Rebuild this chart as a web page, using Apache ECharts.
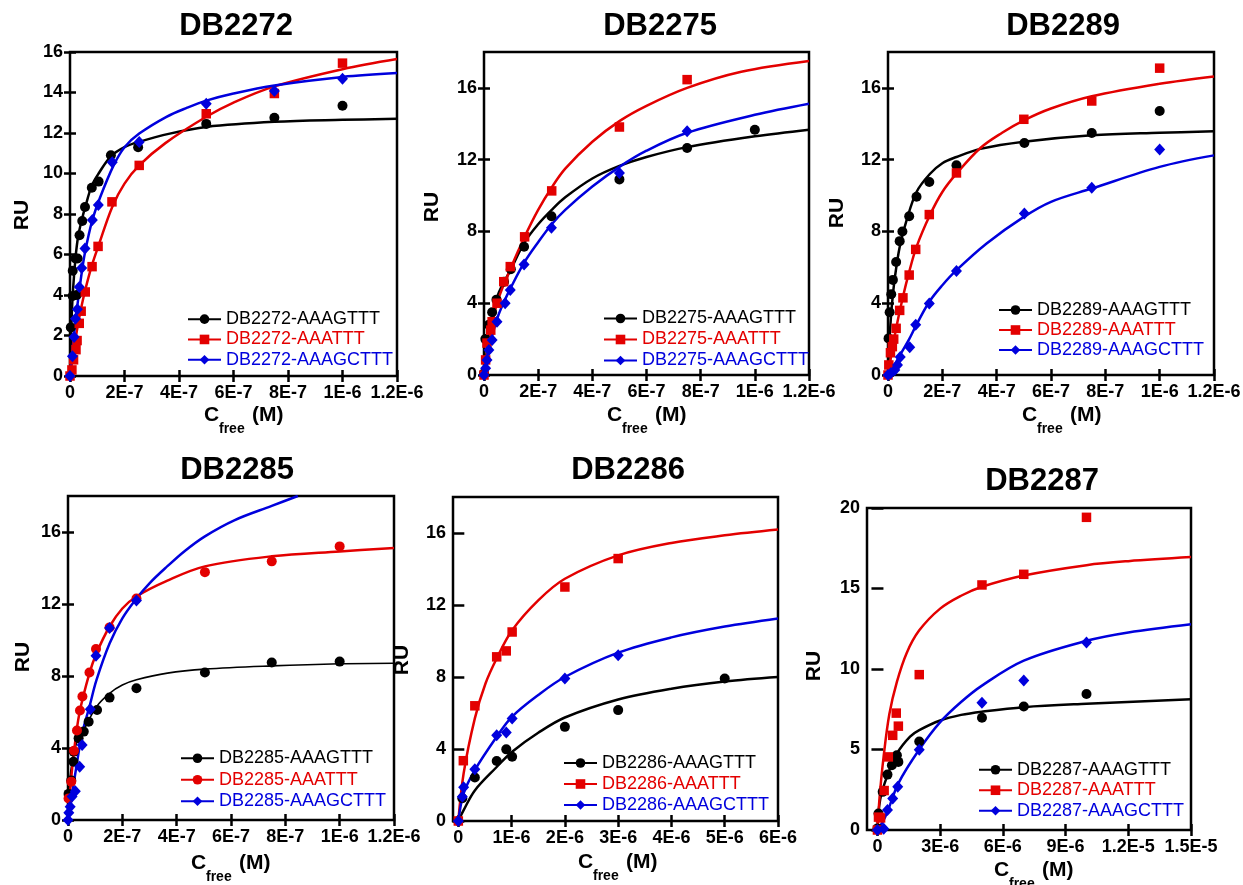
<!DOCTYPE html>
<html><head><meta charset="utf-8">
<script src="https://cdn.jsdelivr.net/npm/echarts@6/dist/echarts.min.js"></script>
<style>html,body{margin:0;padding:0;background:#fff}#c{width:1243px;height:885px}</style>
</head><body><div id="c"></div>
<script>
// ---------------- DATA ----------------
const titles = ['DB2272', 'DB2275', 'DB2289', 'DB2285', 'DB2286', 'DB2287'];
const sequences = ['AAAGTTT', 'AAATTT', 'AAAGCTTT'];

const xTicks_E7 = [0, 2e-7, 4e-7, 6e-7, 8e-7, 1e-6, 1.2e-6];
const xTickLabels_E7 = ['0', '2E-7', '4E-7', '6E-7', '8E-7', '1E-6', '1.2E-6'];
const xTicks_E6 = [0, 1e-6, 2e-6, 3e-6, 4e-6, 5e-6, 6e-6];
const xTickLabels_E6 = ['0', '1E-6', '2E-6', '3E-6', '4E-6', '5E-6', '6E-6'];
const xTicks_E5 = [0, 3e-6, 6e-6, 9e-6, 1.2e-5, 1.5e-5];
const xTickLabels_E5 = ['0', '3E-6', '6E-6', '9E-6', '1.2E-5', '1.5E-5'];
const yTicks_16 = [0, 2, 4, 6, 8, 10, 12, 14, 16];
const yTicks_18 = [0, 4, 8, 12, 16];
const yTicks_20 = [0, 5, 10, 15, 20];

// DB2272
const db2272_AAAGTTT_pts = [[3e-9,2.4],[1e-8,3.95],[1e-8,5.2],[2e-8,5.8],[2.5e-8,4.0],[2.8e-8,5.8],[3.5e-8,6.95],[4.5e-8,7.65],[5.5e-8,8.35],[8e-8,9.3],[1.05e-7,9.6],[1.5e-7,10.9],[2.5e-7,11.3],[5e-7,12.45],[7.5e-7,12.75],[1e-6,13.35]];
const db2272_AAATTT_pts = [[0,0],[7e-9,0.3],[1.3e-8,0.8],[2.2e-8,1.3],[2.6e-8,1.75],[3.4e-8,2.6],[4.1e-8,3.2],[5.6e-8,4.15],[8.1e-8,5.4],[1.03e-7,6.4],[1.54e-7,8.6],[2.54e-7,10.4],[5e-7,12.95],[7.5e-7,13.95],[1e-6,15.45]];
const db2272_AAAGCTTT_pts = [[0,0],[9e-9,0.97],[1.5e-8,1.93],[2e-8,2.83],[2.7e-8,3.3],[3.4e-8,4.4],[4.3e-8,5.33],[5.5e-8,6.3],[8.2e-8,7.7],[1.04e-7,8.45],[1.55e-7,10.55],[2.54e-7,11.55],[5e-7,13.45],[7.5e-7,14.07],[1e-6,14.68]];
const db2272_AAAGTTT_fit = [[0,0],[5e-9,2.5],[1e-8,4.0],[2e-8,5.8],[3e-8,6.9],[4.5e-8,7.8],[5.5e-8,8.3],[8e-8,9.4],[1.05e-7,10.0],[1.5e-7,10.85],[2e-7,11.3],[2.5e-7,11.55],[3.66e-7,11.97],[5e-7,12.3],[7.5e-7,12.55],[1e-6,12.65],[1.2e-6,12.7]];
const db2272_AAATTT_fit = [[0,0],[1e-8,0.9],[2e-8,1.8],[3e-8,2.6],[4e-8,3.3],[5.5e-8,4.2],[8e-8,5.45],[1.05e-7,6.45],[1.55e-7,8.35],[2e-7,9.5],[2.54e-7,10.4],[3.5e-7,11.5],[5e-7,12.8],[6e-7,13.5],[7.5e-7,14.3],[1e-6,15.15],[1.2e-6,15.65]];
const db2272_AAAGCTTT_fit = [[0,0],[1e-8,1.4],[2e-8,2.7],[3e-8,3.8],[4.3e-8,5.1],[5.5e-8,6.1],[8e-8,7.6],[1.1e-7,8.8],[1.6e-7,10.4],[2e-7,11.3],[2.54e-7,11.97],[3.54e-7,12.8],[4.3e-7,13.25],[5e-7,13.6],[6e-7,13.95],[7.5e-7,14.35],[1e-6,14.77],[1.2e-6,14.96]];

// DB2275
const db2275_AAAGTTT_pts = [[0,0.1],[5e-9,2.0],[1.8e-8,2.8],[3e-8,3.5],[4.6e-8,4.2],[7.4e-8,5.2],[9.9e-8,5.9],[1.48e-7,7.15],[2.49e-7,8.85],[5e-7,10.9],[7.5e-7,12.65],[1e-6,13.67]];
const db2275_AAATTT_pts = [[0,0],[6e-9,0.84],[1.1e-8,1.78],[2.5e-8,2.5],[3e-8,2.97],[4.8e-8,4.0],[7.3e-8,5.2],[9.7e-8,6.04],[1.5e-7,7.7],[2.5e-7,10.26],[5e-7,13.82],[7.5e-7,16.46]];
const db2275_AAAGCTTT_pts = [[0,0],[6e-9,0.37],[1.1e-8,0.84],[1.8e-8,1.39],[3e-8,1.95],[4.8e-8,2.97],[7.8e-8,4.0],[9.7e-8,4.74],[1.48e-7,6.16],[2.49e-7,8.2],[5e-7,11.26],[7.5e-7,13.58]];
const db2275_AAAGTTT_fit = [[0,0],[2e-8,2.3],[5e-8,4.4],[1e-7,5.9],[1.5e-7,7.4],[2e-7,8.4],[2.5e-7,9.2],[3e-7,9.9],[4e-7,10.95],[5e-7,11.65],[6e-7,12.15],[7.5e-7,12.7],[1e-6,13.3],[1.2e-6,13.67]];
const db2275_AAATTT_fit = [[0,0],[2e-8,2.0],[5e-8,4.1],[1e-7,6.0],[1.5e-7,7.7],[2e-7,9.2],[2.5e-7,10.45],[3e-7,11.5],[4e-7,13.0],[5e-7,14.15],[6e-7,15.0],[7.5e-7,16.0],[9.5e-7,16.9],[1.2e-6,17.5]];
const db2275_AAAGCTTT_fit = [[0,0],[2e-8,1.6],[5e-8,3.2],[7.4e-8,4.08],[1e-7,4.9],[1.5e-7,6.3],[2e-7,7.4],[2.5e-7,8.4],[3e-7,9.2],[4e-7,10.5],[5e-7,11.6],[6e-7,12.5],[7.5e-7,13.5],[1e-6,14.5],[1.2e-6,15.12]];

// DB2289
const db2289_AAAGTTT_pts = [[2e-9,2.04],[6e-9,3.5],[1.2e-8,4.5],[1.8e-8,5.3],[3e-8,6.3],[4.3e-8,7.46],[5.3e-8,8.0],[7.8e-8,8.85],[1.05e-7,9.93],[1.52e-7,10.76],[2.52e-7,11.69],[5.02e-7,12.93],[7.5e-7,13.49],[1e-6,14.71]];
const db2289_AAATTT_pts = [[0,0],[3e-9,0.56],[9e-9,1.24],[1.6e-8,1.58],[2.1e-8,2.0],[3e-8,2.6],[4.3e-8,3.6],[5.5e-8,4.3],[7.8e-8,5.57],[1.02e-7,7.0],[1.52e-7,8.94],[2.52e-7,11.26],[5e-7,14.25],[7.5e-7,15.27],[1e-6,17.1]];
const db2289_AAAGCTTT_pts = [[0,0],[1e-8,0.1],[2.5e-8,0.28],[3.5e-8,0.56],[4.5e-8,1.0],[8e-8,1.55],[1.02e-7,2.8],[1.52e-7,3.99],[2.52e-7,5.79],[5.02e-7,9.0],[7.5e-7,10.43],[1e-6,12.56]];
const db2289_AAAGTTT_fit = [[0,0],[4e-9,1.6],[8e-9,2.6],[1.5e-8,4.0],[2.5e-8,5.4],[4.3e-8,7.14],[6.8e-8,8.6],[1.05e-7,10.2],[1.54e-7,11.2],[2e-7,11.8],[2.52e-7,12.15],[3.4e-7,12.6],[5e-7,13.0],[7.5e-7,13.36],[1e-6,13.5],[1.2e-6,13.58]];
const db2289_AAATTT_fit = [[0,0],[1e-8,0.9],[3e-8,2.6],[5.5e-8,4.36],[7.8e-8,5.75],[1.05e-7,7.14],[1.54e-7,8.9],[2e-7,10.2],[2.52e-7,11.22],[3.4e-7,12.65],[4.2e-7,13.5],[5e-7,14.19],[6e-7,14.85],[7.5e-7,15.53],[1e-6,16.23],[1.2e-6,16.64]];
const db2289_AAAGCTTT_fit = [[0,0],[2e-8,0.45],[4e-8,1.0],[7.8e-8,2.0],[1.02e-7,2.72],[1.52e-7,4.08],[2e-7,5.0],[2.52e-7,5.84],[3.63e-7,7.33],[5e-7,8.81],[6e-7,9.65],[7.5e-7,10.39],[1e-6,11.6],[1.2e-6,12.24]];

// DB2285
const db2285_AAAGTTT_pts = [[2e-9,1.45],[1.2e-8,2.2],[2e-8,3.24],[2.1e-8,3.8],[3.9e-8,4.54],[5.8e-8,4.91],[7.6e-8,5.46],[1.07e-7,6.11],[1.53e-7,6.8],[2.52e-7,7.32],[5.04e-7,8.19],[7.5e-7,8.75],[1e-6,8.8]];
const db2285_AAATTT_pts = [[2e-9,1.2],[1.2e-8,2.13],[2.2e-8,3.85],[3.3e-8,4.97],[4.4e-8,6.08],[5.3e-8,6.86],[7.9e-8,8.19],[1.03e-7,9.5],[1.53e-7,10.7],[2.52e-7,12.3],[5.04e-7,13.77],[7.5e-7,14.37],[1e-6,15.2]];
const db2285_AAAGCTTT_pts = [[0,0],[3e-9,0.4],[8e-9,0.74],[1.5e-8,1.3],[2.7e-8,1.6],[4.3e-8,2.96],[5.2e-8,4.17],[8.2e-8,6.15],[1.03e-7,9.12],[1.53e-7,10.66],[2.52e-7,12.2]];
const db2285_AAAGTTT_fit = [[0,0],[5e-9,1.9],[1e-8,2.7],[2e-8,3.6],[3.5e-8,4.4],[5.8e-8,5.0],[1.05e-7,6.3],[1.53e-7,7.04],[2e-7,7.5],[2.52e-7,7.79],[3.66e-7,8.16],[5.04e-7,8.38],[7.5e-7,8.56],[1e-6,8.68],[1.2e-6,8.71]];
const db2285_AAATTT_fit = [[0,0],[1e-8,2.0],[2.2e-8,3.8],[4.2e-8,5.93],[7.9e-8,8.16],[1.05e-7,9.27],[1.53e-7,10.75],[2e-7,11.75],[2.52e-7,12.42],[3.66e-7,13.3],[5.04e-7,14.09],[7.5e-7,14.65],[1e-6,14.92],[1.2e-6,15.11]];
const db2285_AAAGCTTT_fit = [[0,0],[1e-8,0.9],[2.7e-8,2.6],[5.2e-8,4.8],[7.9e-8,6.3],[1.05e-7,7.78],[1.53e-7,9.8],[2e-7,11.2],[2.52e-7,12.3],[3e-7,13.15],[3.66e-7,14.1],[4.3e-7,14.95],[5.04e-7,15.76],[6.12e-7,16.65],[7.5e-7,17.45],[8.46e-7,18.0]];

// DB2286
const db2286_AAAGTTT_pts = [[0,0],[7.5e-8,1.26],[3.1e-7,2.42],[7.2e-7,3.33],[9e-7,3.98],[1.01e-6,3.57],[2e-6,5.23],[3e-6,6.16],[5e-6,7.92]];
const db2286_AAATTT_pts = [[0,0],[9.4e-8,3.35],[3.1e-7,6.4],[7.2e-7,9.12],[9e-7,9.45],[1.01e-6,10.5],[2e-6,13.0],[3e-6,14.58]];
const db2286_AAAGCTTT_pts = [[0,0],[7.5e-8,1.35],[1e-7,1.87],[3.1e-7,2.87],[7.2e-7,4.77],[9e-7,4.92],[1.01e-6,5.7],[2e-6,7.92],[3e-6,9.21]];
const db2286_AAAGTTT_fit = [[0,0],[1e-7,0.6],[3.1e-7,1.7],[7.2e-7,3.0],[1.01e-6,3.85],[1.5e-6,4.9],[2e-6,5.75],[3e-6,6.75],[4e-6,7.35],[5e-6,7.75],[6e-6,8.0]];
const db2286_AAATTT_fit = [[0,0],[1e-7,2.65],[3.1e-7,5.7],[5.1e-7,7.64],[7.2e-7,9.03],[1.01e-6,10.6],[1.5e-6,12.26],[2e-6,13.46],[3e-6,14.76],[4e-6,15.45],[5e-6,15.87],[6e-6,16.19]];
const db2286_AAAGCTTT_fit = [[0,0],[1e-7,1.54],[3.1e-7,2.83],[7.2e-7,4.68],[1.01e-6,5.8],[1.5e-6,7.0],[2e-6,8.0],[3e-6,9.35],[4e-6,10.2],[5e-6,10.8],[6e-6,11.25]];

// DB2287
const db2287_AAAGTTT_pts = [[0,0.1],[5e-8,1.03],[2.5e-7,2.37],[4.8e-7,3.44],[6.9e-7,4.02],[9.3e-7,4.64],[1.0e-6,4.23],[2e-6,5.5],[5e-6,6.97],[7e-6,7.67],[1e-5,8.45]];
const db2287_AAATTT_pts = [[0,0],[5e-8,0.8],[1.5e-7,0.75],[3.2e-7,2.45],[5.2e-7,4.54],[7.3e-7,5.88],[9e-7,7.26],[1.0e-6,6.45],[2e-6,9.65],[5e-6,15.22],[7e-6,15.88],[1e-5,19.42]];
const db2287_AAAGCTTT_pts = [[0,0],[3e-7,0.08],[4.8e-7,1.24],[7.3e-7,1.96],[9.7e-7,2.68],[2e-6,4.99],[5e-6,7.9],[7e-6,9.28],[1e-5,11.65]];
const db2287_AAAGTTT_fit = [[0,0],[1.3e-7,1.9],[4.8e-7,3.4],[9.3e-7,4.75],[1.56e-6,5.8],[2e-6,6.2],[3e-6,6.8],[4e-6,7.15],[5e-6,7.35],[7e-6,7.63],[1e-5,7.84],[1.5e-5,8.12]];
const db2287_AAATTT_fit = [[0,0],[1e-7,2.0],[2.9e-7,4.5],[5.7e-7,7.2],[9.3e-7,9.2],[1.4e-6,11.0],[2e-6,12.4],[3e-6,13.75],[4e-6,14.55],[5e-6,15.11],[7e-6,15.81],[1e-5,16.45],[1.2e-5,16.7],[1.5e-5,16.95]];
const db2287_AAAGCTTT_fit = [[0,0],[2.5e-7,0.5],[4.8e-7,1.13],[1e-6,2.9],[2e-6,5.0],[3e-6,6.7],[4e-6,7.95],[5e-6,8.97],[7e-6,10.52],[1e-5,11.75],[1.2e-5,12.27],[1.5e-5,12.78]];

// ---------------- LAYOUT / STYLE ----------------
const FONT = '"Liberation Sans", Arial, Helvetica, sans-serif';
const COLORS = ['#000000', '#e30000', '#0000dd'];

const panels = [
  { pts: [db2272_AAAGTTT_pts, db2272_AAATTT_pts, db2272_AAAGCTTT_pts],
    fits: [db2272_AAAGTTT_fit, db2272_AAATTT_fit, db2272_AAAGCTTT_fit],
    syms: ['circle', 'rect', 'diamond'], xTicks: xTicks_E7, xLabels: xTickLabels_E7, yTicks: yTicks_16,
    xmin: 0, xmax: 1.2e-6, ymax: 16, grid: [70, 52, 327, 324],
    title: [236, 26], ru: [22, 215], cfree: [204, 415], legend: [187, 309, 20.3], blackW: 2.5 },
  { pts: [db2275_AAAGTTT_pts, db2275_AAATTT_pts, db2275_AAAGCTTT_pts],
    fits: [db2275_AAAGTTT_fit, db2275_AAATTT_fit, db2275_AAAGCTTT_fit],
    syms: ['circle', 'rect', 'diamond'], xTicks: xTicks_E7, xLabels: xTickLabels_E7, yTicks: yTicks_18,
    xmin: 0, xmax: 1.2e-6, ymax: 18, grid: [484, 52, 325, 323],
    title: [660, 26], ru: [432, 207], cfree: [607, 415], legend: [603, 308, 21] , blackW: 2.5 },
  { pts: [db2289_AAAGTTT_pts, db2289_AAATTT_pts, db2289_AAAGCTTT_pts],
    fits: [db2289_AAAGTTT_fit, db2289_AAATTT_fit, db2289_AAAGCTTT_fit],
    syms: ['circle', 'rect', 'diamond'], xTicks: xTicks_E7, xLabels: xTickLabels_E7, yTicks: yTicks_18,
    xmin: 0, xmax: 1.2e-6, ymax: 18, grid: [888, 52, 326, 323],
    title: [1063, 26], ru: [837, 213], cfree: [1022, 415], legend: [998, 300, 20], blackW: 2.5 },
  { pts: [db2285_AAAGTTT_pts, db2285_AAATTT_pts, db2285_AAAGCTTT_pts],
    fits: [db2285_AAAGTTT_fit, db2285_AAATTT_fit, db2285_AAAGCTTT_fit],
    syms: ['circle', 'circle', 'diamond'], xTicks: xTicks_E7, xLabels: xTickLabels_E7, yTicks: yTicks_18,
    xmin: 0, xmax: 1.2e-6, ymax: 18, grid: [68, 496, 326, 324],
    title: [237, 470], ru: [23, 657], cfree: [191, 863], legend: [180, 747.5, 21.5], blackW: 1.6 },
  { pts: [db2286_AAAGTTT_pts, db2286_AAATTT_pts, db2286_AAAGCTTT_pts],
    fits: [db2286_AAAGTTT_fit, db2286_AAATTT_fit, db2286_AAAGCTTT_fit],
    syms: ['circle', 'rect', 'diamond'], xTicks: xTicks_E6, xLabels: xTickLabels_E6, yTicks: yTicks_18,
    xmin: -1e-7, xmax: 6e-6, ymax: 18, grid: [453, 497, 325, 324],
    title: [628, 470], ru: [402, 660], cfree: [578, 862], legend: [563, 752.5, 21], blackW: 2.5 },
  { pts: [db2287_AAAGTTT_pts, db2287_AAATTT_pts, db2287_AAAGCTTT_pts],
    fits: [db2287_AAAGTTT_fit, db2287_AAATTT_fit, db2287_AAAGCTTT_fit],
    syms: ['circle', 'rect', 'diamond'], xTicks: xTicks_E5, xLabels: xTickLabels_E5, yTicks: yTicks_20,
    xmin: -5e-7, xmax: 1.5e-5, ymax: 20, grid: [867, 508, 324, 322],
    title: [1042, 481], ru: [814, 666], cfree: [994, 870], legend: [978, 759.5, 20.5], blackW: 2.5 }
];

function labelFor(ticks, labels) {
  return function (v) {
    let best = 0, bd = Infinity;
    for (let i = 0; i < ticks.length; i++) {
      const d = Math.abs(ticks[i] - v);
      if (d < bd) { bd = d; best = i; }
    }
    return labels[best];
  };
}

const tickStyle = { inside: true, length: 6, lineStyle: { color: '#000', width: 2.5 } };
const labelStyle = { color: '#000', fontSize: 18, fontWeight: 'bold', fontFamily: FONT };

const grids = [], xAxes = [], yAxes = [], series = [], legends = [], graphics = [];

panels.forEach(function (p, i) {
  const name = titles[i];
  grids.push({ left: p.grid[0], top: p.grid[1], width: p.grid[2], height: p.grid[3],
    show: true, borderColor: '#000', borderWidth: 2.5, backgroundColor: 'transparent',
    containLabel: false, outerBoundsMode: 'none' });
  ['bottom', 'top'].forEach(function (pos) {
    xAxes.push({ gridIndex: i, type: 'value', position: pos, min: p.xmin, max: p.xmax,
      axisLine: { show: false }, splitLine: { show: false },
      axisTick: Object.assign({ customValues: p.xTicks }, tickStyle),
      axisLabel: Object.assign({ show: pos === 'bottom', customValues: p.xTicks, margin: 8,
        showMinLabel: true, showMaxLabel: true, hideOverlap: false,
        formatter: labelFor(p.xTicks, p.xLabels) }, labelStyle) });
  });
  ['left', 'right'].forEach(function (pos) {
    yAxes.push({ gridIndex: i, type: 'value', position: pos, min: 0, max: p.ymax,
      axisLine: { show: false }, splitLine: { show: false },
      axisTick: Object.assign({ customValues: p.yTicks }, tickStyle),
      axisLabel: Object.assign({ show: pos === 'left', customValues: p.yTicks, margin: 7,
        showMinLabel: true, showMaxLabel: true,
        formatter: function (v) { return String(Math.round(v)); } }, labelStyle) });
  });
  const legendData = [];
  for (let k = 0; k < 3; k++) {
    const sname = name + '-' + sequences[k];
    const col = COLORS[k];
    const sym = p.syms[k];
    const ssize = sym === 'diamond' ? [11, 12] : (sym === 'rect' ? 9.5 : 10);
    series.push({ name: sname, type: 'line', xAxisIndex: 2 * i, yAxisIndex: 2 * i,
      data: p.fits[k], smooth: 0.35, showSymbol: false,
      symbol: sym, symbolSize: ssize, color: col, itemStyle: { color: col },
      lineStyle: { color: col, width: k === 0 ? p.blackW : 2.5 }, silent: true, z: 2 });
    series.push({ name: sname, type: 'scatter', xAxisIndex: 2 * i, yAxisIndex: 2 * i,
      data: p.pts[k], symbol: sym, symbolSize: ssize, itemStyle: { color: col, opacity: 1 },
      silent: true, z: 3 });
    legendData.push({ name: sname, textStyle: { color: col } });
  }
  legends.push({ orient: 'vertical', left: p.legend[0], top: p.legend[1], padding: 0,
    itemWidth: 33, itemHeight: 12, itemGap: 0, selectedMode: false,
    textStyle: { fontSize: 18, fontFamily: FONT, lineHeight: p.legend[2] },
    data: legendData });

  graphics.push({ type: 'text', x: p.title[0], y: p.title[1],
    style: { text: name, fill: '#000', font: 'bold 31px ' + FONT, textAlign: 'center', textVerticalAlign: 'middle', align: 'center', verticalAlign: 'middle' } });
  graphics.push({ type: 'text', x: p.ru[0], y: p.ru[1], rotation: Math.PI / 2,
    style: { text: 'RU', fill: '#000', font: 'bold 21px ' + FONT, textAlign: 'center', textVerticalAlign: 'middle', align: 'center', verticalAlign: 'middle' } });
  graphics.push({ type: 'text', x: p.cfree[0], y: p.cfree[1],
    style: { text: 'C', fill: '#000', font: 'bold 21px ' + FONT, textAlign: 'left', textVerticalAlign: 'middle', align: 'left', verticalAlign: 'middle' } });
  graphics.push({ type: 'text', x: p.cfree[0] + 15, y: p.cfree[1] + 14,
    style: { text: 'free', fill: '#000', font: 'bold 14px ' + FONT, textAlign: 'left', textVerticalAlign: 'middle', align: 'left', verticalAlign: 'middle' } });
  graphics.push({ type: 'text', x: p.cfree[0] + 48, y: p.cfree[1],
    style: { text: '(M)', fill: '#000', font: 'bold 21px ' + FONT, textAlign: 'left', textVerticalAlign: 'middle', align: 'left', verticalAlign: 'middle' } });
});

const chart = echarts.init(document.getElementById('c'), null, { renderer: 'canvas' });
chart.setOption({
  animation: false,
  backgroundColor: '#ffffff',
  grid: grids, xAxis: xAxes, yAxis: yAxes, series: series, legend: legends,
  graphic: { elements: graphics }
});
</script>
</body></html>
